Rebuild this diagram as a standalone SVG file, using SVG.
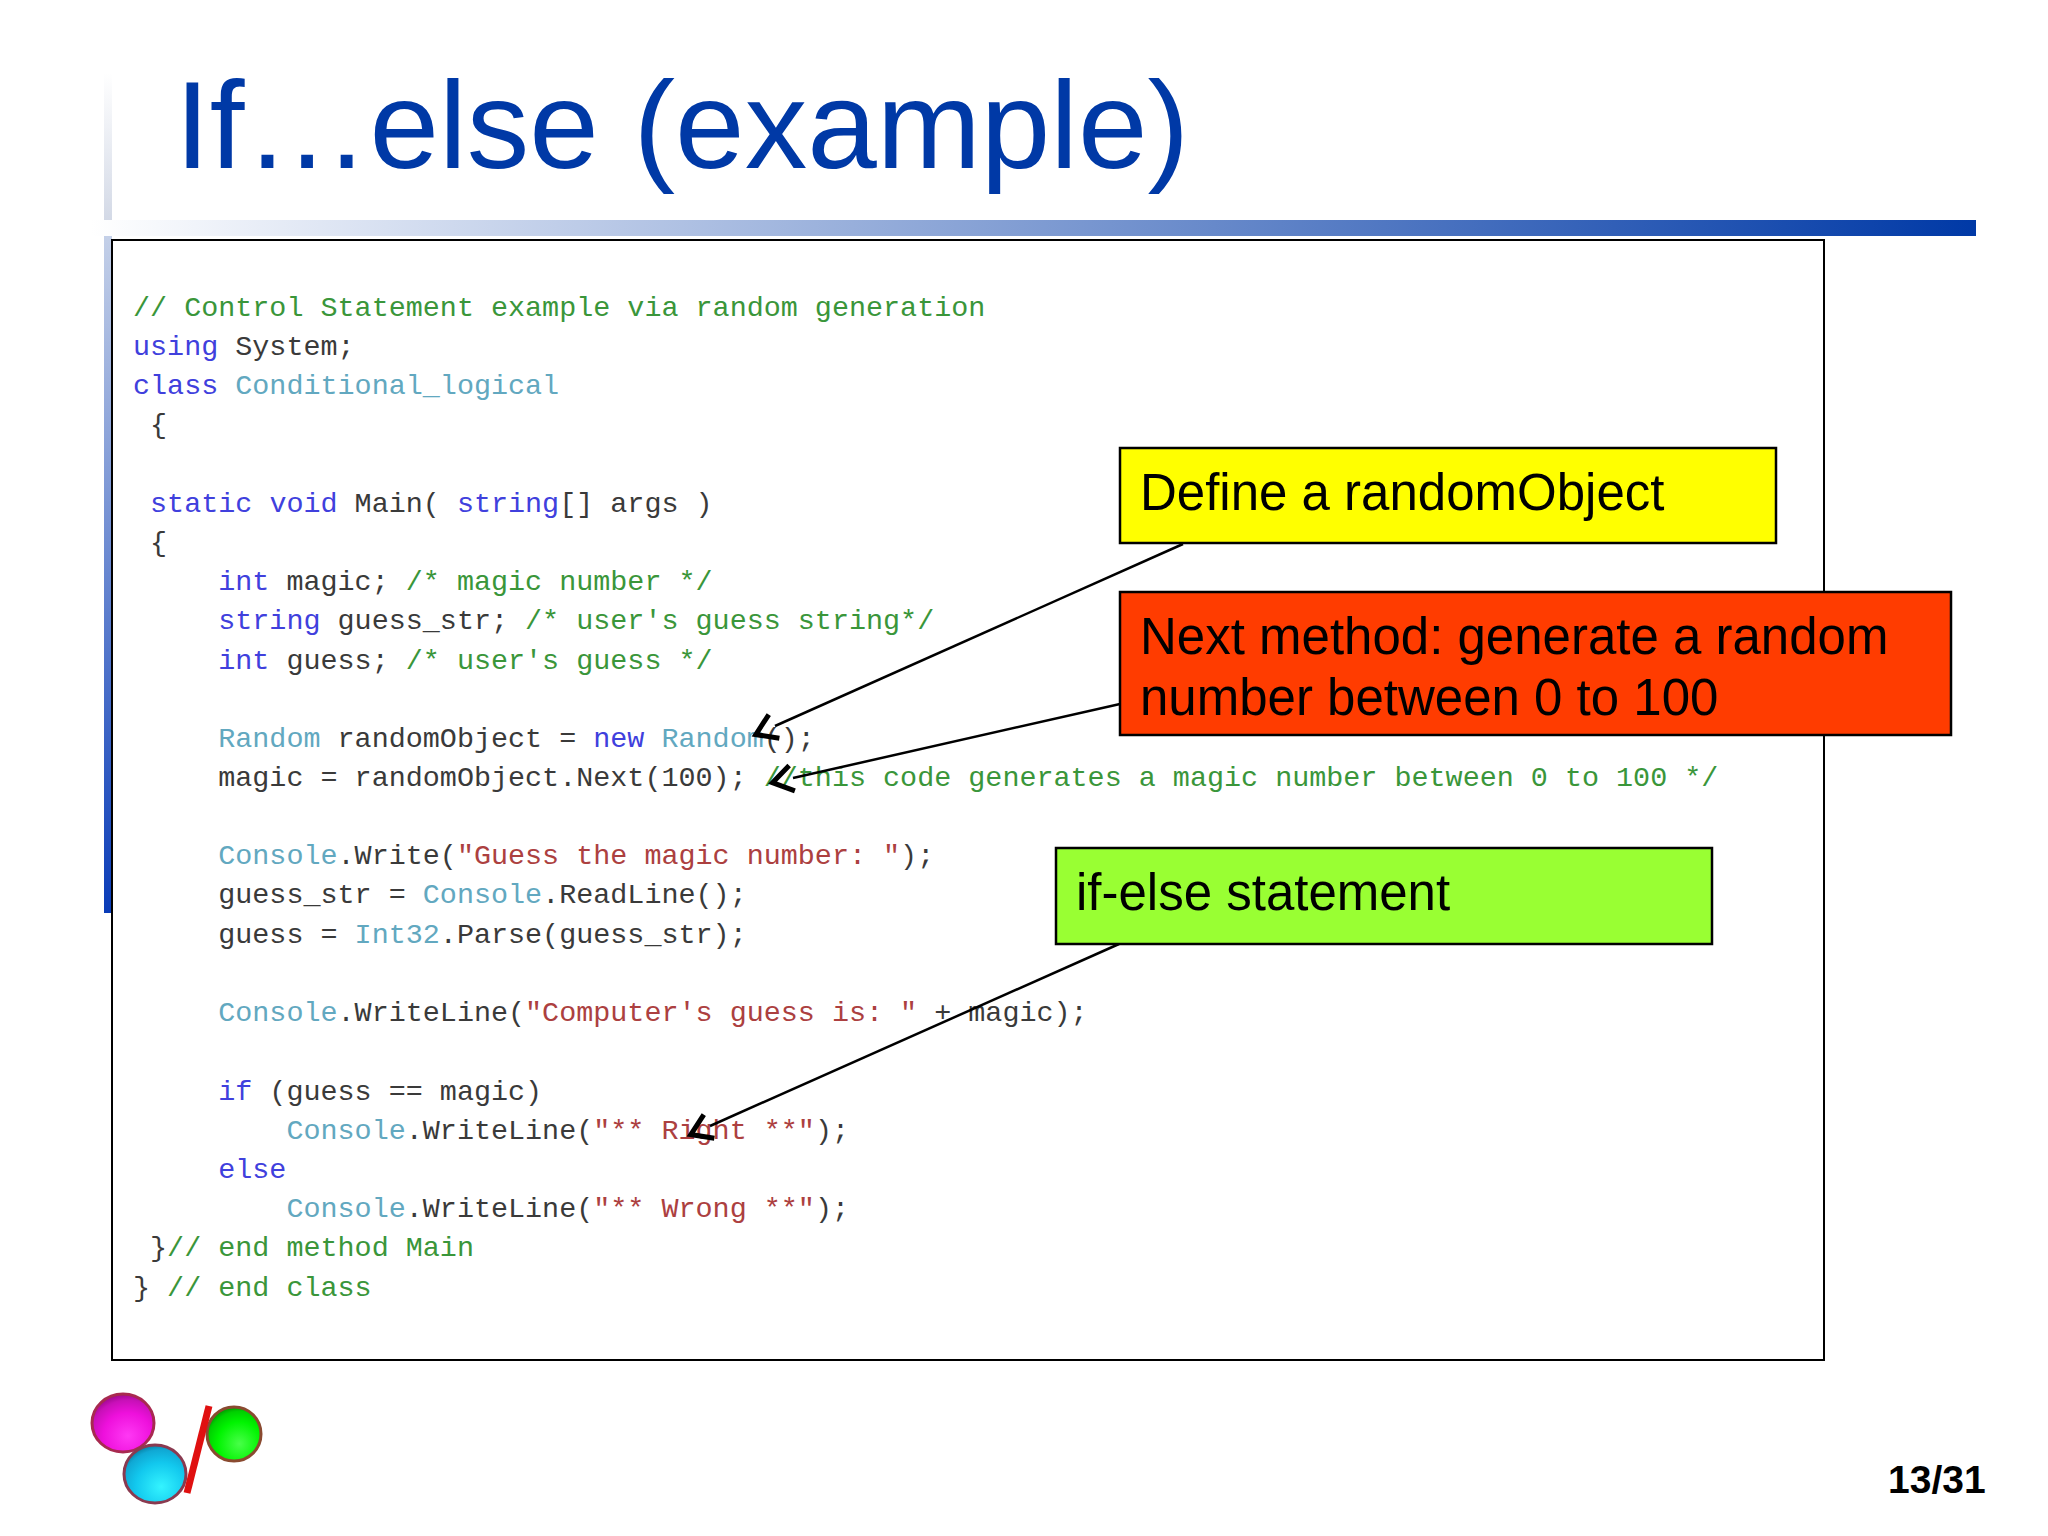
<svg xmlns="http://www.w3.org/2000/svg" width="2048" height="1536" viewBox="0 0 2048 1536">
<style>
text{white-space:pre}
.sans{font-family:"Liberation Sans",Arial,sans-serif}
.code{font-family:"Liberation Mono","Courier New",monospace;font-size:28.42px;fill:#3a3a3a}
.k{fill:#4040dd}.c{fill:#3a963a}.t{fill:#62a8c0}.s{fill:#ac4040}
.box{stroke:#000;stroke-width:2.5}
.call{font-size:51px;fill:#000}
.conn{fill:none;stroke:#000;stroke-width:2.5;marker-end:url(#open)}
</style>
<defs>
<marker id="open" markerUnits="userSpaceOnUse" markerWidth="40" markerHeight="40" refX="0" refY="20" orient="auto" overflow="visible"><path d="M1,7 L21,20 L1,33" fill="none" stroke="#000" stroke-width="5"/></marker>
<linearGradient id="band" x1="0" x2="1" y1="0" y2="0"><stop offset="0" stop-color="#fff"/><stop offset="1" stop-color="#0039a6"/></linearGradient>
<linearGradient id="barTop" x1="0" x2="0" y1="0" y2="1"><stop offset="0" stop-color="#fff"/><stop offset="1" stop-color="#d3d9e6"/></linearGradient>
<linearGradient id="barLow" x1="0" x2="0" y1="0" y2="1"><stop offset="0" stop-color="#c4d0e8"/><stop offset="1" stop-color="#0a3cb8"/></linearGradient>
<radialGradient id="mag" cx=".58" cy=".72" r=".72"><stop offset="0" stop-color="#ff38f4"/><stop offset=".55" stop-color="#ee10dc"/><stop offset=".85" stop-color="#c810b8"/><stop offset="1" stop-color="#a00890"/></radialGradient>
<radialGradient id="cya" cx=".6" cy=".72" r=".75"><stop offset="0" stop-color="#34f4ff"/><stop offset=".55" stop-color="#12c8ee"/><stop offset=".85" stop-color="#10a8d4"/><stop offset="1" stop-color="#087a9c"/></radialGradient>
<radialGradient id="gre" cx=".6" cy=".68" r=".68"><stop offset="0" stop-color="#48ff48"/><stop offset=".6" stop-color="#00f400"/><stop offset=".88" stop-color="#00d000"/><stop offset="1" stop-color="#00a000"/></radialGradient>
</defs>
<rect width="2048" height="1536" fill="#fff"/>
<g id="decor">
<rect x="104" y="73" width="8" height="147" fill="url(#barTop)"/>
<rect x="104" y="236" width="8" height="677" fill="url(#barLow)"/>
<rect x="91" y="220" width="1885" height="16" fill="url(#band)"/>
</g>
<g id="title"><text class="sans" x="175" y="168" font-size="125" fill="#0039a6">If…else (example)</text></g>
<g id="code-box">
<rect x="112" y="240" width="1712" height="1120" fill="#fff" stroke="#000" stroke-width="2"/>
<g class="code">
<text x="133" y="316" class="c">// Control Statement example via random generation</text>
<text x="133" y="355.2"><tspan class="k">using</tspan> System;</text>
<text x="133" y="394.4"><tspan class="k">class</tspan> <tspan class="t">Conditional_logical</tspan></text>
<text x="133" y="433"> {</text>
<text x="133" y="511.9"> <tspan class="k">static</tspan> <tspan class="k">void</tspan> Main( <tspan class="k">string</tspan>[] args )</text>
<text x="133" y="550.6"> {</text>
<text x="133" y="590.3">     <tspan class="k">int</tspan> magic; <tspan class="c">/* magic number */</tspan></text>
<text x="133" y="629.4">     <tspan class="k">string</tspan> guess_str; <tspan class="c">/* user's guess string*/</tspan></text>
<text x="133" y="668.6">     <tspan class="k">int</tspan> guess; <tspan class="c">/* user's guess */</tspan></text>
<text x="133" y="747">     <tspan class="t">Random</tspan> randomObject = <tspan class="k">new</tspan> <tspan class="t">Random</tspan>();</text>
<text x="133" y="786.2">     magic = randomObject.Next(100); <tspan class="c">//this code generates a magic number between 0 to 100 */</tspan></text>
<text x="133" y="864.2">     <tspan class="t">Console</tspan>.Write(<tspan class="s">"Guess the magic number: "</tspan>);</text>
<text x="133" y="903.4">     guess_str = <tspan class="t">Console</tspan>.ReadLine();</text>
<text x="133" y="942.6">     guess = <tspan class="t">Int32</tspan>.Parse(guess_str);</text>
<text x="133" y="1021.2">     <tspan class="t">Console</tspan>.WriteLine(<tspan class="s">"Computer's guess is: "</tspan> + magic);</text>
<text x="133" y="1099.6">     <tspan class="k">if</tspan> (guess == magic)</text>
<text x="133" y="1138.8">         <tspan class="t">Console</tspan>.WriteLine(<tspan class="s">"** Right **"</tspan>);</text>
<text x="133" y="1177.9">     <tspan class="k">else</tspan></text>
<text x="133" y="1217.1">         <tspan class="t">Console</tspan>.WriteLine(<tspan class="s">"** Wrong **"</tspan>);</text>
<text x="133" y="1256.3"> }<tspan class="c">// end method Main</tspan></text>
<text x="133" y="1295.5">} <tspan class="c">// end class</tspan></text>
</g>
</g>
<g id="connectors">
<line class="conn" x1="1183" y1="544" x2="775" y2="726"/>
<line class="conn" x1="1120" y1="704" x2="793" y2="778"/>
<line class="conn" x1="1119" y1="944" x2="710" y2="1126"/>
</g>
<g id="callout-define">
<rect class="box" x="1120" y="448" width="656" height="95" fill="#ffff00"/>
<text class="sans call" x="1140" y="510">Define a randomObject</text>
</g>
<g id="callout-next">
<rect class="box" x="1120" y="592" width="831" height="143" fill="#ff3c00"/>
<text class="sans call" x="1140" y="654">Next method: generate a random</text>
<text class="sans call" x="1140" y="715">number between 0 to 100</text>
</g>
<g id="callout-ifelse">
<rect class="box" x="1056" y="848" width="656" height="96" fill="#99ff33"/>
<text class="sans call" x="1076" y="910">if-else statement</text>
</g>
<g id="logo">
<ellipse cx="123" cy="1423" rx="31" ry="29" fill="url(#mag)" stroke="#a82a50" stroke-width="3"/>
<ellipse cx="155" cy="1474" rx="31" ry="29" fill="url(#cya)" stroke="#8a3a50" stroke-width="3"/>
<ellipse cx="234" cy="1434" rx="27" ry="27" fill="url(#gre)" stroke="#8a4a30" stroke-width="3"/>
<line x1="209" y1="1406" x2="187" y2="1493" stroke="#e01010" stroke-width="7"/>
</g>
<g id="page-number"><text class="sans" x="1888" y="1493" font-size="39" font-weight="bold" fill="#000">13/31</text></g>
</svg>
